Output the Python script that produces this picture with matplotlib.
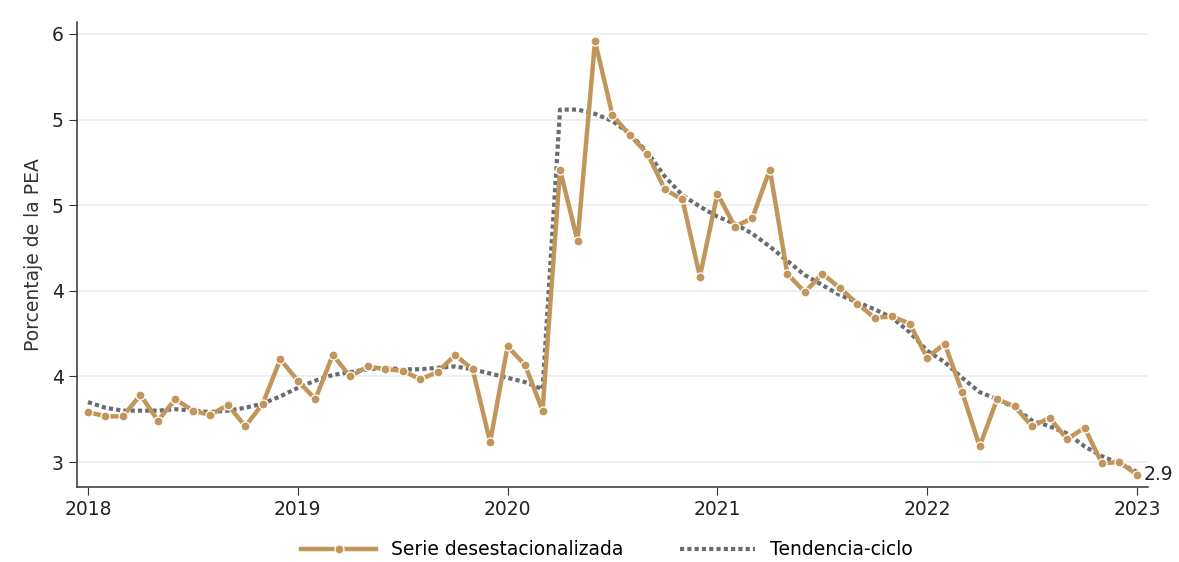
import matplotlib
matplotlib.use("Agg")
import matplotlib.pyplot as plt
import numpy as np

plt.rcParams['font.family'] = ['DejaVu Sans']

# Monthly data, Jan 2018 .. Jan 2023
serie = [3.35, 3.32, 3.32, 3.47, 3.29, 3.44, 3.36, 3.33, 3.40, 3.25, 3.41, 3.72,
         3.57, 3.44, 3.75, 3.60, 3.67, 3.65, 3.64, 3.58, 3.63, 3.75, 3.65, 3.14,
         3.81, 3.68, 3.36, 5.05, 4.55, 5.95, 5.43, 5.29, 5.16, 4.91, 4.84, 4.30,
         4.88, 4.65, 4.71, 5.05, 4.32, 4.19, 4.32, 4.22, 4.11, 4.01, 4.02, 3.97,
         3.73, 3.83, 3.49, 3.11, 3.44, 3.39, 3.25, 3.31, 3.16, 3.24, 2.99, 3.00,
         2.91]
tendencia = [3.42, 3.38, 3.36, 3.36, 3.36, 3.37, 3.36, 3.35, 3.36, 3.38, 3.41, 3.46,
             3.52, 3.57, 3.61, 3.63, 3.65, 3.66, 3.65, 3.65, 3.66, 3.67, 3.65, 3.62,
             3.59, 3.56, 3.51, 5.47, 5.47, 5.44, 5.39, 5.30, 5.17, 5.00, 4.87, 4.79,
             4.72, 4.67, 4.60, 4.51, 4.41, 4.31, 4.24, 4.17, 4.12, 4.07, 4.01, 3.91,
             3.78, 3.70, 3.59, 3.49, 3.44, 3.38, 3.29, 3.25, 3.20, 3.11, 3.04, 2.99,
             2.93]
years = ['2018', '2019', '2020', '2021', '2022', '2023']
ytick_vals = [3.0, 3.6, 4.2, 4.8, 5.4, 6.0]
ytick_labels = ['3', '4', '4', '5', '5', '6']
last_label = '2.9'

months = np.arange(len(serie))

fig = plt.figure(figsize=(11.79, 5.62), dpi=100)
ax = fig.add_axes([0.0653, 0.1335, 0.9084, 0.8274])

gold = '#C0965A'
gray = '#686D71'

ax.plot(months, tendencia, color=gray, lw=3.0, linestyle=(0, (1, 0.75)),
        label='Tendencia-ciclo', zorder=2)
ax.plot(months, serie, color=gold, lw=3.2, marker='o', markersize=6.5,
        markeredgecolor='white', markeredgewidth=0.9, label='Serie desestacionalizada',
        zorder=3)

ax.annotate(last_label, (months[-1], serie[-1]), xytext=(5, 0), textcoords='offset points',
            ha='left', va='center', fontsize=13.5, color='#222222')

ax.set_xlim(-0.63, 60.63)
ax.set_ylim(2.825, 6.084)
ax.set_xticks(np.arange(0, 61, 12))
ax.set_xticklabels(years)
ax.set_yticks(ytick_vals)
ax.set_yticklabels(ytick_labels)
ax.grid(axis='y', color='#E6EEF2', lw=1.2)
ax.set_axisbelow(True)
for s in ['top', 'right']:
    ax.spines[s].set_visible(False)
for s in ['left', 'bottom']:
    ax.spines[s].set_color('#333333')
    ax.spines[s].set_linewidth(1.1)
ax.tick_params(axis='both', labelsize=13.5, length=6, color='#333333', labelcolor='#222222')
ax.set_ylabel('Porcentaje de la PEA', fontsize=13.5, color='#333333', labelpad=6)

h, l = ax.get_legend_handles_labels()
fig.legend(h[::-1], l[::-1], loc='lower center', bbox_to_anchor=(0.515, -0.025), ncol=2,
           frameon=False, fontsize=13.5, handlelength=4, columnspacing=3, numpoints=1)

fig.savefig('out.png', dpi=100)
